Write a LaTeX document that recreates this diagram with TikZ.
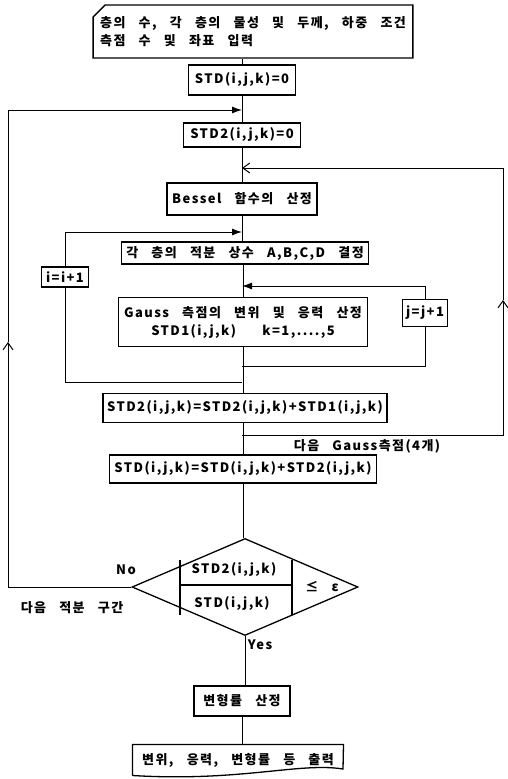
\documentclass[tikz,border=0pt]{standalone}
\usepackage{fontspec}
\setmainfont{Noto Sans CJK KR}[LetterSpace=11, WordSpace=3]
\usetikzlibrary{arrows.meta,shapes.geometric,shapes.misc}
\tikzset{
  every picture/.style={draw=black, text=black, line width=1pt},
  txt/.style={font=\bfseries\fontsize{13}{18}\selectfont},
  box/.style={txt, draw, line width=1.3pt, inner sep=2pt},
  fill arrow/.style={-{Latex[length=10pt,width=7pt]}},
  open arrow/.style={-{Straight Barb[length=7pt,width=10pt]}},
}

\begin{document}
\begin{tikzpicture}[x=1pt, y=-1pt]
\useasboundingbox (0,0) rectangle (507,779);
% input card
\node[box, chamfered rectangle, chamfered rectangle corners=north west,
  chamfered rectangle xsep=5pt, chamfered rectangle ysep=7pt,
  minimum width=316pt, minimum height=53pt, align=left]
  (input) at (253,31.5) {층의 수, 각 층의 물성 및 두께, 하중 조건\\측점 수 및 좌표 입력};
% main column
\node[box, minimum width=107pt, minimum height=30pt] (std0) at (242,80) {STD(i,j,k)=0};
\node[box, minimum width=117pt, minimum height=24pt] (std2zero) at (242,135) {STD2(i,j,k)=0};
\node[box, minimum width=150pt, minimum height=32pt] (bessel) at (242,199) {Bessel 함수의 산정};
\node[box, minimum width=247pt, minimum height=22pt] (const) at (245,253) {각 층의 적분 상수 A,B,C,D 결정};
\node[box, minimum width=249pt, minimum height=49pt, align=center] (gauss) at (243,322)
  {Gauss 측점의 변위 및 응력 산정\\STD1(i,j,k)\ \ k=1,....,5};
\node[box, minimum width=284pt, minimum height=29pt] (sum2) at (245,408)
  {STD2(i,j,k)=STD2(i,j,k)+STD1(i,j,k)};
\node[box, minimum width=267pt, minimum height=28pt] (sum) at (243,469)
  {STD(i,j,k)=STD(i,j,k)+STD2(i,j,k)};
\node[draw, diamond, line width=1.3pt, minimum width=226pt, minimum height=97pt, inner sep=0pt]
  (dec) at (245,587) {};
\node[box, minimum width=96pt, minimum height=30pt] (strain) at (242,701) {변형률 산정};
\node[txt, minimum width=210pt, minimum height=30pt, inner sep=2pt] (out) at (238,760)
  {변위, 응력, 변형률 등 출력};
% counters
\node[box, minimum width=47pt, minimum height=20pt] (iinc) at (65,277) {i=i+1};
\node[box, minimum width=45pt, minimum height=27pt] (jinc) at (425,313) {j=j+1};
% decision contents
\node[txt] (num) at (234,570) {STD2(i,j,k)};
\node[txt] (den) at (232,604) {STD(i,j,k)};
\node[txt] (eps) at (322,587) {≤ ε};
\draw[line width=1.3pt] (180,560) -- (180,615);
\draw[line width=1.3pt] (292,560) -- (292,615);
\draw[line width=1.3pt] (180,585) -- (292,585);
% output document shape
\draw[line width=1.3pt] (out.south west) -- (out.north west) -- (out.north east)
  -- (343,769) .. controls (300,762) and (240,782) .. (out.south west);
% labels
\node[txt] (nolbl) at (126,570) {No};
\node[txt] (nextint) at (72,608) {다음 적분 구간};
\node[txt, anchor=west] (yeslbl) at (244,645) {Yes};
\node[txt] (nextgauss) at (367,446) {다음 Gauss측점(4개)};
% junctions on the main line
\coordinate (mainin) at (242,110);
\coordinate (kin) at (242,168);
\coordinate (iin) at (242,232);
\coordinate (jin) at (242,286);
\coordinate (jout) at (242,366);
\coordinate (iout) at (242,382);
\coordinate (kout) at (242,435);
\coordinate (kr1) at (503,435);
\coordinate (kr2) at (503,300);
\coordinate (nl1) at (8,587);
\coordinate (nl2) at (8,342);
% main flow
\draw (std0.north) -- (std0.north |- input.south);
\draw (std0) -- (std2zero);
\draw (std2zero) -- (bessel);
\draw (bessel) -- (bessel.south |- const.north);
\draw (gauss.north |- const.south) -- (gauss);
\draw (gauss.south) -- (gauss.south |- sum2.north);
\draw (sum2.south -| sum.north) -- (sum);
\draw (sum) -- (dec.north -| sum.south);
\draw (dec.south) -- (strain.north -| dec.south);
\draw (strain) -- (out.north -| strain.south);
% j loop
\draw (jout) -| (jinc.south);
\draw[fill arrow] (jinc.north) |- (jin);
% i loop
\draw (iout) -| (iinc.south);
\draw[fill arrow] (iinc.north) |- (iin);
% Gauss point loop
\draw[open arrow] (kout) -- (kr1) -- (kr2);
\draw[open arrow] (kr2) |- (kin);
% integration interval loop
\draw[open arrow] (dec.west) -- (nl1) -- (nl2);
\draw[fill arrow] (nl2) |- (mainin);
\end{tikzpicture}
\end{document}
